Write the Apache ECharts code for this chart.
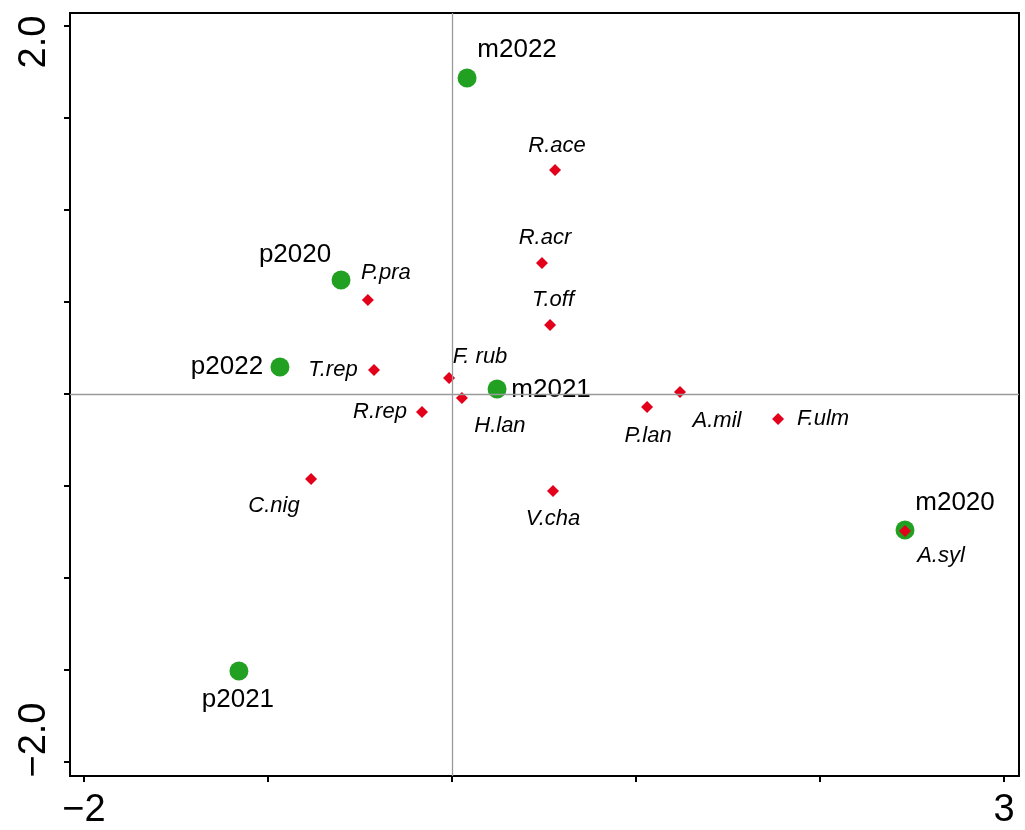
<!DOCTYPE html>
<html>
<head>
<meta charset="utf-8">
<script src="https://cdn.jsdelivr.net/npm/echarts@6/dist/echarts.min.js"></script>
<style>html,body{margin:0;padding:0;background:#fff;}#c{width:1025px;height:830px;}</style>
</head>
<body>
<div id="c"></div>
<script>
// ---- data ----
const siteNames = ['m2020', 'm2021', 'm2022', 'p2020', 'p2021', 'p2022'];
const siteX = [2.462, 0.245, 0.082, -0.603, -1.158, -0.935];
const siteY = [-0.739, 0.027, 1.717, 0.620, -1.505, 0.147];

const speciesNames = ['R.ace', 'R.acr', 'T.off', 'P.pra', 'T.rep', 'F. rub', 'H.lan', 'R.rep', 'P.lan', 'A.mil', 'F.ulm', 'C.nig', 'V.cha', 'A.syl'];
const speciesX = [0.560, 0.489, 0.533, -0.457, -0.424, -0.016, 0.054, -0.163, 1.060, 1.239, 1.772, -0.766, 0.549, 2.462];
const speciesY = [1.217, 0.712, 0.375, 0.511, 0.130, 0.087, -0.022, -0.098, -0.071, 0.011, -0.136, -0.462, -0.527, -0.745];

const xTickValues = [-2, -1, 0, 1, 2, 3];
const xLabelValues = [-2, 3];
const xTickLabels = ['\u22122', '3'];
const yTickValues = [-2, -1.5, -1, -0.5, 0, 0.5, 1, 1.5, 2];
const yLabelValues = [-2, 2];
const yTickLabels = ['\u22122.0', '2.0'];

// ---- label placement (style) ----
const labelOffset = {
  'm2022': [50, -28], 'p2020': [-46, -25], 'p2022': [-53, 0], 'm2021': [54, 1],
  'p2021': [-1, 29], 'm2020': [50, -27],
  'R.ace': [2, -24], 'R.acr': [3, -25], 'T.off': [3, -25], 'P.pra': [18, -27],
  'T.rep': [-41, 0], 'F. rub': [31, -21], 'H.lan': [38, 28], 'R.rep': [-42, 0],
  'P.lan': [1, 29], 'A.mil': [37, 29], 'F.ulm': [45, 0], 'C.nig': [-37, 27],
  'V.cha': [0, 28], 'A.syl': [36, 25]
};

const FONT = '"Liberation Sans", Arial, sans-serif';

const siteData = siteNames.map((n, i) => ({
  name: n, value: [siteX[i], siteY[i]],
  label: { offset: labelOffset[n] }
}));
const speciesData = speciesNames.map((n, i) => ({
  name: n, value: [speciesX[i], speciesY[i]],
  label: { offset: labelOffset[n] }
}));

const chart = echarts.init(document.getElementById('c'), null, { renderer: 'canvas' });
chart.setOption({
  animation: false,
  backgroundColor: '#ffffff',
  grid: { left: 70, right: 6, top: 13, bottom: 54, show: true, borderColor: '#000', borderWidth: 2, backgroundColor: 'transparent' },
  xAxis: {
    type: 'value', min: -2.076, max: 3.0815,
    splitLine: { show: false },
    axisLine: { show: true, onZero: false, lineStyle: { color: '#000', width: 2 } },
    axisTick: { show: true, customValues: xTickValues, length: 6, inside: false, lineStyle: { color: '#000', width: 2 } },
    axisLabel: {
      customValues: xLabelValues, margin: 16, color: '#000', fontSize: 38, fontFamily: FONT,
      formatter: v => xTickLabels[xLabelValues.indexOf(v)]
    }
  },
  yAxis: {
    type: 'value', min: -2.076, max: 2.0707,
    splitLine: { show: false },
    axisLine: { show: true, onZero: false, lineStyle: { color: '#000', width: 2 } },
    axisTick: { show: true, customValues: yTickValues, length: 6, inside: false, lineStyle: { color: '#000', width: 2 } },
    axisLabel: {
      customValues: yLabelValues, margin: 16, rotate: 90, color: '#000', fontSize: 38, fontFamily: FONT,
      formatter: v => {
        const t = yTickLabels[yLabelValues.indexOf(v)];
        return v > 0 ? '{hi|' + t + '}' : '{lo|' + t + '}';
      },
      rich: {
        hi: { fontSize: 38, fontFamily: FONT, color: '#000', padding: [0, 32, 0, 0] },
        lo: { fontSize: 38, fontFamily: FONT, color: '#000', padding: [0, 0, 0, 44] }
      }
    }
  },
  series: [
    {
      name: 'sites', type: 'scatter', symbol: 'circle', symbolSize: 19, z: 3,
      itemStyle: { color: '#22a022', opacity: 1 },
      label: {
        show: true, position: 'inside', formatter: p => p.name,
        color: '#000', fontSize: 26, fontFamily: FONT, align: 'center', verticalAlign: 'middle'
      },
      data: siteData,
      markLine: {
        silent: true, symbol: ['none', 'none'], label: { show: false },
        lineStyle: { color: '#9a9a9a', width: 1.3, type: 'solid' },
        data: [{ xAxis: 0 }, { yAxis: 0 }]
      }
    },
    {
      name: 'species', type: 'scatter', symbol: 'diamond', symbolSize: 12, z: 4,
      itemStyle: { color: '#e2001a', opacity: 1 },
      label: {
        show: true, position: 'inside', formatter: p => p.name,
        color: '#000', fontSize: 22, fontStyle: 'italic', fontFamily: FONT, align: 'center', verticalAlign: 'middle'
      },
      data: speciesData
    }
  ]
});
</script>
</body>
</html>
